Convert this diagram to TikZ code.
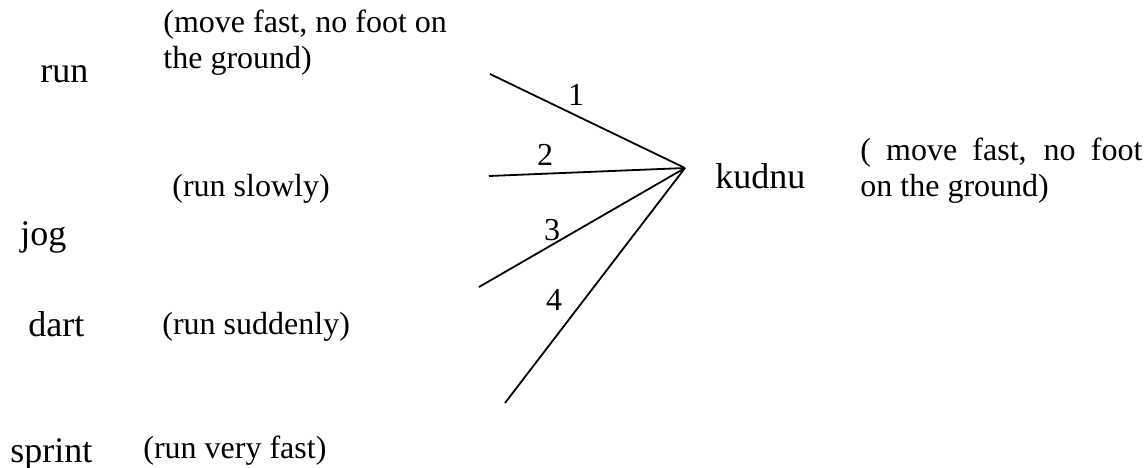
\documentclass[tikz,border=0pt]{standalone}
\usepackage{fontspec}
\setmainfont{Liberation Serif}
\usetikzlibrary{positioning}
\tikzset{
  word/.style={font=\fontsize{18}{21}\selectfont, inner sep=0pt, anchor=base west},
  gloss/.style={font=\fontsize{16}{18}\selectfont, inner sep=0pt, anchor=base west, align=left},
  num/.style={font=\fontsize{16}{18}\selectfont, inner sep=0pt},
  link/.style={draw=black, line width=0.9pt},
}

\begin{document}
\begin{tikzpicture}[x=0.5pt,y=-0.5pt]
  \useasboundingbox (0,0) rectangle (1148,467);
  % English words and their glosses (two-line glosses sit on their last line)
  \node[word] (run) at (40,82) {run};
  \node[gloss] (runGloss) at (163,68) {(move fast, no foot on\\the ground)};
  \node[word] (jog) at (20,245) {jog};
  \node[gloss] (jogGloss) at (172,196) {(run slowly)};
  \node[word] (dart) at (28,336) {dart};
  \node[gloss] (dartGloss) at (162,334) {(run suddenly)};
  \node[word] (sprint) at (10,462) {sprint};
  \node[gloss] (sprintGloss) at (143,458) {(run very fast)};
  % Target word
  \node[word] (kudnu) at (715,188) {kudnu};
  \node[gloss] (kudnuGloss) at (860,196) {\makebox[141pt][s]{( move fast, no foot}\\on the ground)};
  % Fan of links into kudnu
  \coordinate (hub) at (685,168);
  \coordinate (end1) at (490,74);
  \coordinate (end2) at (489,176);
  \coordinate (end3) at (479,287);
  \coordinate (end4) at (505,403);
  \foreach \i in {1,...,4}
    \draw[link] (end\i) -- (hub);
  \node[num] (n1) at (576,95) {1};
  \node[num] (n2) at (545,155) {2};
  \node[num] (n3) at (552,230) {3};
  \node[num] (n4) at (554,300) {4};
\end{tikzpicture}
\end{document}
